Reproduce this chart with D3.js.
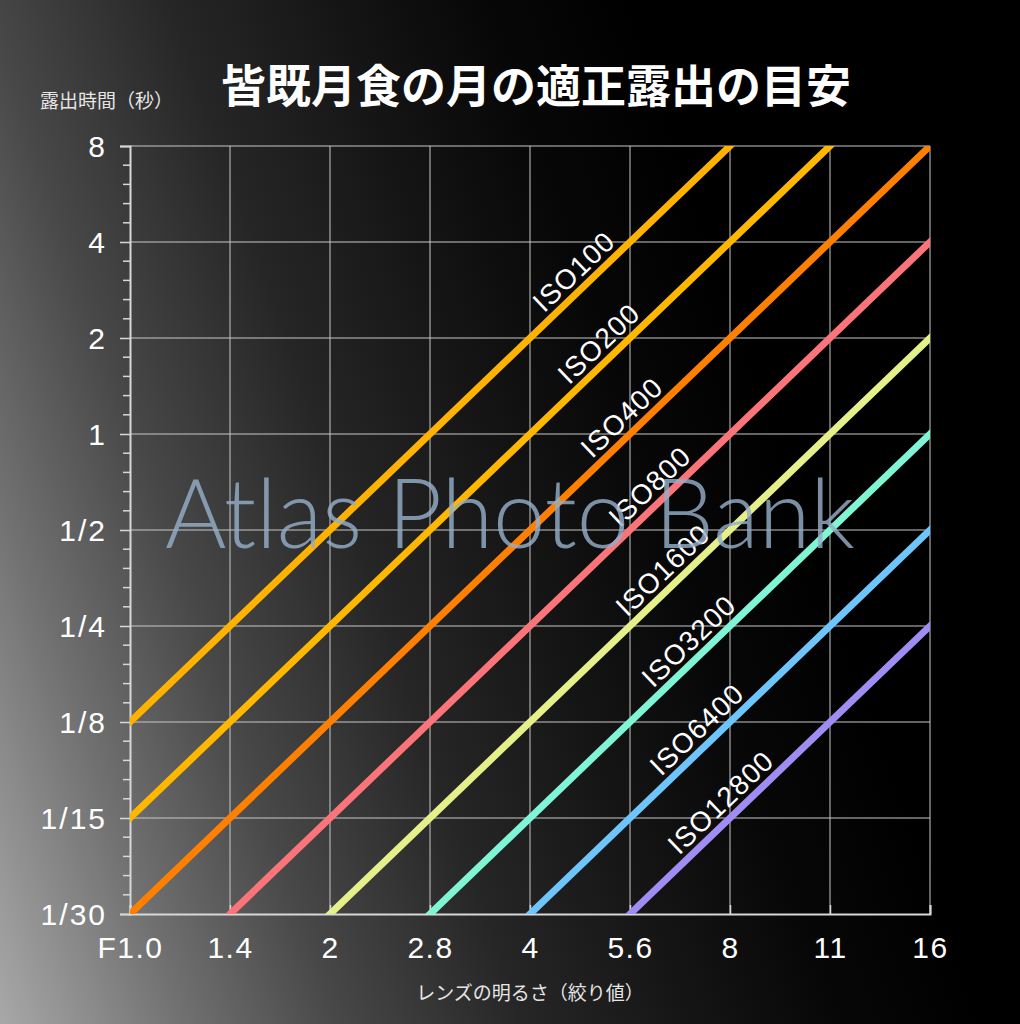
<!DOCTYPE html>
<html>
<head>
<meta charset="utf-8">
<script src="https://cdn.jsdelivr.net/npm/d3@7"></script>
<style>
  html, body { margin: 0; padding: 0; background: #000; }
  svg { display: block; }
</style>
</head>
<body>
<svg id="chart" width="1020" height="1024"></svg>
<script>
// ---- data ----
const apertures = ["F1.0", "1.4", "2", "2.8", "4", "5.6", "8", "11", "16"];
const exposureTicks = ["1/30", "1/15", "1/8", "1/4", "1/2", "1", "2", "4", "8"];
const isoNames = ["ISO100", "ISO200", "ISO400", "ISO800", "ISO1600", "ISO3200", "ISO6400", "ISO12800"];
// exposure time at each aperture (null = off the chart)
const iso100   = ["1/8", "1/4", "1/2", "1", "2", "4", "8", null, null];
const iso200   = ["1/15", "1/8", "1/4", "1/2", "1", "2", "4", "8", null];
const iso400   = ["1/30", "1/15", "1/8", "1/4", "1/2", "1", "2", "4", "8"];
const iso800   = [null, "1/30", "1/15", "1/8", "1/4", "1/2", "1", "2", "4"];
const iso1600  = [null, null, "1/30", "1/15", "1/8", "1/4", "1/2", "1", "2"];
const iso3200  = [null, null, null, "1/30", "1/15", "1/8", "1/4", "1/2", "1"];
const iso6400  = [null, null, null, null, "1/30", "1/15", "1/8", "1/4", "1/2"];
const iso12800 = [null, null, null, null, null, "1/30", "1/15", "1/8", "1/4"];
const seriesValues = [iso100, iso200, iso400, iso800, iso1600, iso3200, iso6400, iso12800];
const seriesColors = ["#ffb300", "#ffb700", "#ff8000", "#fa7479", "#e6f08a", "#7ff5d6", "#6ec5fb", "#a08cf2"];

const titleText = "皆既月食の月の適正露出の目安";
const yTitle = "露出時間（秒）";
const xTitle = "レンズの明るさ（絞り値）";
const watermark = "Atlas Photo Bank";

// ---- layout ----
const W = 1020, H = 1024;
const plot = { left: 130, right: 930, top: 146, bottom: 914 };
const labelLineX = [586, 611, 634, 662, 675, 701, 709, 733];
const tickFont = "'Liberation Sans', Arial, sans-serif";

const svg = d3.select("#chart");
const defs = svg.append("defs");

const bg = defs.append("linearGradient").attr("id", "bg")
  .attr("gradientUnits", "userSpaceOnUse")
  .attr("x1", 0).attr("y1", 1024).attr("x2", 1040).attr("y2", 665);
[[0, "#a8a8a8"], [0.16, "#707070"], [0.29, "#484848"], [0.45, "#262626"],
 [0.6, "#141414"], [0.72, "#070707"], [0.85, "#000"], [1, "#000"]]
  .forEach(([o, c]) => bg.append("stop").attr("offset", o).attr("stop-color", c));

svg.append("rect").attr("width", W).attr("height", H).attr("fill", "url(#bg)");

defs.append("clipPath").attr("id", "clip").append("rect")
  .attr("x", plot.left).attr("y", plot.top)
  .attr("width", plot.right - plot.left).attr("height", plot.bottom - plot.top);

const x = d3.scalePoint().domain(apertures).range([plot.left, plot.right]);
const y = d3.scalePoint().domain(exposureTicks).range([plot.bottom, plot.top]);

// grid
const gridColor = "rgba(200,200,200,0.5)";
const grid = svg.append("g");
grid.selectAll(".gx").data(apertures.slice(1)).join("line")
  .attr("x1", d => x(d)).attr("x2", d => x(d))
  .attr("y1", plot.top).attr("y2", plot.bottom)
  .attr("stroke", gridColor).attr("stroke-width", 2);
grid.selectAll(".gy").data(exposureTicks.slice(1)).join("line")
  .attr("x1", plot.left).attr("x2", plot.right)
  .attr("y1", d => y(d)).attr("y2", d => y(d))
  .attr("stroke", gridColor).attr("stroke-width", 2);

// y axis
const yAxis = d3.axisLeft(y).tickSize(10);
const gy = svg.append("g").attr("transform", `translate(${plot.left},0)`).call(yAxis);
gy.select(".domain").attr("stroke", "#d8d8d8").attr("stroke-width", 2);
gy.selectAll(".tick line").attr("stroke", "#d8d8d8").attr("stroke-width", 1.5);
gy.selectAll(".tick text")
  .attr("fill", "#fff").attr("font-family", tickFont)
  .attr("font-size", 30).attr("letter-spacing", 2).attr("dy", "0.36em").attr("x", -23);

// minor y ticks
const minor = [];
for (let i = 0; i < exposureTicks.length - 1; i++) {
  const y0 = y(exposureTicks[i]), y1 = y(exposureTicks[i + 1]);
  for (let k = 1; k < 5; k++) minor.push(y0 + (y1 - y0) * k / 5);
}
svg.append("g").selectAll("line").data(minor).join("line")
  .attr("x1", plot.left - 7).attr("x2", plot.left)
  .attr("y1", d => d).attr("y2", d => d)
  .attr("stroke", "#d8d8d8").attr("stroke-width", 1.5);

// x axis
const xAxis = d3.axisBottom(x).tickSize(-9);
const gx = svg.append("g").attr("transform", `translate(0,${plot.bottom})`).call(xAxis);
gx.select(".domain").attr("stroke", "#d8d8d8").attr("stroke-width", 2);
gx.selectAll(".tick line").attr("stroke", "#d8d8d8").attr("stroke-width", 1.5);
gx.selectAll(".tick text")
  .attr("fill", "#fff").attr("font-family", tickFont)
  .attr("font-size", 30).attr("letter-spacing", 1.5).attr("dy", "0.71em").attr("y", 23);

// series lines
const lineGen = d3.line()
  .defined(d => d.v !== null)
  .x(d => x(d.a)).y(d => y(d.v));
const seriesData = seriesValues.map((vals, i) => ({
  name: isoNames[i], color: seriesColors[i],
  pts: vals.map((v, j) => ({ a: apertures[j], v }))
}));
svg.append("g").attr("clip-path", "url(#clip)")
  .selectAll("path").data(seriesData).join("path")
  .attr("d", d => lineGen(d.pts))
  .attr("fill", "none").attr("stroke", d => d.color)
  .attr("stroke-width", 7).attr("stroke-linecap", "square");

// labels
seriesData.forEach((s, i) => {
  const def = s.pts.filter(p => p.v !== null);
  const p0 = def[0], p1 = def[def.length - 1];
  const x0 = x(p0.a), y0 = y(p0.v), x1 = x(p1.a), y1 = y(p1.v);
  const lx = labelLineX[i];
  const ly = y0 + (y1 - y0) * (lx - x0) / (x1 - x0);
  const ang = Math.atan2(y1 - y0, x1 - x0) * 180 / Math.PI;
  svg.append("text")
    .attr("transform", `translate(${lx},${ly}) rotate(${ang})`)
    .attr("text-anchor", "middle").attr("dy", -8)
    .attr("fill", "#fff").attr("font-family", tickFont)
    .attr("font-size", 28).attr("letter-spacing", 1).text(s.name);
});

// titles
svg.append("text").attr("x", 536).attr("y", 103).attr("text-anchor", "middle")
  .attr("fill", "#fff").attr("font-family", "'Noto Sans CJK JP', sans-serif")
  .attr("font-weight", "bold").attr("font-size", 45).text(titleText);
svg.append("text").attr("x", 40).attr("y", 108)
  .attr("fill", "#e6e6e6").attr("font-family", "'Noto Sans CJK JP', sans-serif")
  .attr("font-size", 19).text(yTitle);
svg.append("text").attr("x", 530).attr("y", 1000).attr("text-anchor", "middle")
  .attr("fill", "#e6e6e6").attr("font-family", "'Noto Sans CJK JP', sans-serif")
  .attr("font-size", 19).text(xTitle);

// watermark
svg.append("text").attr("x", 165).attr("y", 548)
  .attr("textLength", 690).attr("lengthAdjust", "spacingAndGlyphs")
  .attr("fill", "#95adc8").attr("fill-opacity", 0.82)
  .attr("font-family", "Lato, 'Open Sans', sans-serif").attr("font-weight", 300)
  .attr("font-size", 96).text(watermark);
</script>
</body>
</html>
